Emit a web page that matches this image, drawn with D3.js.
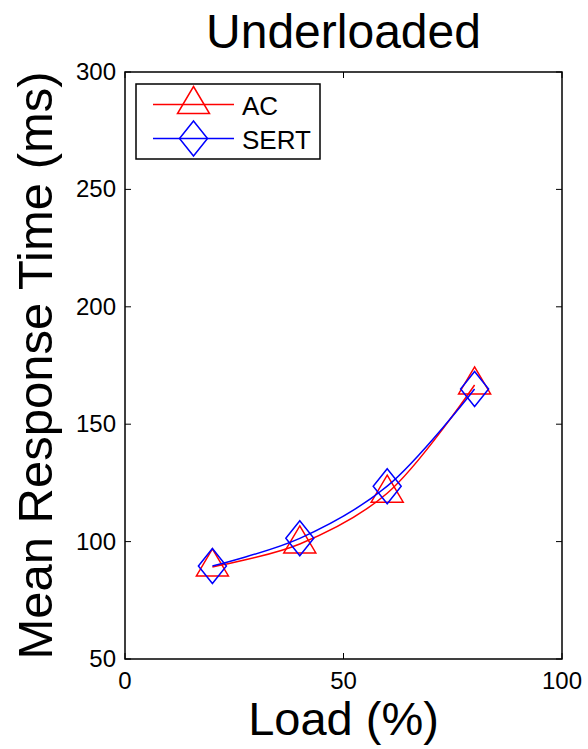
<!DOCTYPE html>
<html>
<head>
<meta charset="utf-8">
<script src="https://cdn.jsdelivr.net/npm/d3@7"></script>
<style>
  body { margin: 0; background: #fff; }
  text { font-family: "Liberation Sans", Arial, sans-serif; fill: #000; }
</style>
</head>
<body>
<div id="chart"></div>
<script>
var WIDTH = 588, HEIGHT = 749;
var MARGIN = {top: 72, right: 26, bottom: 90, left: 125};

// data
var loads = [20, 40, 60, 80];
var acValues = [89.2, 99.0, 120.6, 166.7];
var sertValues = [89.6, 101.4, 123.6, 165.0];
var xTicks = [0, 50, 100];
var yTicks = [50, 100, 150, 200, 250, 300];

var series = [
  {name: "AC", values: acValues, color: "#ff0000", marker: "triangle"},
  {name: "SERT", values: sertValues, color: "#0000ff", marker: "diamond"}
];

var svg = d3.select("#chart")
  .append("svg")
  .attr("width", WIDTH)
  .attr("height", HEIGHT);

var x = d3.scaleLinear().domain([0, 100]).range([MARGIN.left, WIDTH - MARGIN.right]);
var y = d3.scaleLinear().domain([50, 300]).range([HEIGHT - MARGIN.bottom, MARGIN.top]);

var plotW = x(100) - x(0), plotH = y(50) - y(300);

// marker paths, triangle drawn around its centroid like matlab '^'
function markerPath(type) {
  if (type == "triangle") {
    return "M0,-18 L16,9 L-16,9 Z";
  }
  return "M0,-17.5 L14,0 L0,17.5 L-14,0 Z";
}

// ticks inside the box, on all four sides
var tickLen = 6;
var ticks = svg.append("g").attr("stroke", "#000").attr("stroke-width", 1);
xTicks.forEach(function(t) {
  ticks.append("line").attr("x1", x(t)).attr("x2", x(t)).attr("y1", y(50)).attr("y2", y(50) - tickLen);
  ticks.append("line").attr("x1", x(t)).attr("x2", x(t)).attr("y1", y(300)).attr("y2", y(300) + tickLen);
});
yTicks.forEach(function(t) {
  ticks.append("line").attr("x1", x(0)).attr("x2", x(0) + tickLen).attr("y1", y(t)).attr("y2", y(t));
  ticks.append("line").attr("x1", x(100)).attr("x2", x(100) - tickLen).attr("y1", y(t)).attr("y2", y(t));
});

svg.selectAll(".xTickLabel")
  .data(xTicks)
  .enter()
  .append("text")
  .attr("class", "xTickLabel")
  .attr("x", function(d) { return x(d) })
  .attr("y", y(50) + 30)
  .attr("text-anchor", "middle")
  .style("font-size", "24px")
  .text(function(d) { return d });

svg.selectAll(".yTickLabel")
  .data(yTicks)
  .enter()
  .append("text")
  .attr("class", "yTickLabel")
  .attr("x", x(0) - 9)
  .attr("y", function(d) { return y(d) + 8 })
  .attr("text-anchor", "end")
  .style("font-size", "24px")
  .text(function(d) { return d });

// series lines (smoothed) and markers
var line = d3.line()
  .x(function(d, i) { return x(loads[i]) })
  .y(function(d) { return y(d) })
  .curve(d3.curveCatmullRom.alpha(0.5));

series.forEach(function(s) {
  svg.append("path")
    .attr("d", line(s.values))
    .attr("fill", "none")
    .attr("stroke", s.color)
    .attr("stroke-width", 1.5);
  svg.selectAll(".marker-" + s.name)
    .data(s.values)
    .enter()
    .append("path")
    .attr("class", "marker-" + s.name)
    .attr("transform", function(d, i) { return "translate(" + x(loads[i]) + "," + y(d) + ")" })
    .attr("d", markerPath(s.marker))
    .attr("fill", "none")
    .attr("stroke", s.color)
    .attr("stroke-width", 1.5);
});

// axes box
svg.append("rect")
  .attr("x", x(0)).attr("y", y(300))
  .attr("width", plotW).attr("height", plotH)
  .attr("fill", "none")
  .attr("stroke", "#000")
  .attr("stroke-width", 1.5);

// legend
var legend = svg.append("g").attr("transform", "translate(136,84)");
legend.append("rect")
  .attr("width", 184).attr("height", 75)
  .attr("fill", "#fff")
  .attr("stroke", "#000")
  .attr("stroke-width", 1.5);
series.forEach(function(s, i) {
  var rowY = 20.5 + i * 34;
  legend.append("line")
    .attr("x1", 17).attr("x2", 98)
    .attr("y1", rowY).attr("y2", rowY)
    .attr("stroke", s.color).attr("stroke-width", 1.5);
  legend.append("path")
    .attr("transform", "translate(57.5," + rowY + ")")
    .attr("d", markerPath(s.marker))
    .attr("fill", "none")
    .attr("stroke", s.color)
    .attr("stroke-width", 1.5);
  legend.append("text")
    .attr("x", 106).attr("y", rowY + 10)
    .style("font-size", "26px")
    .text(s.name);
});

// titles
svg.append("text")
  .attr("x", (x(0) + x(100)) / 2)
  .attr("y", 48)
  .attr("text-anchor", "middle")
  .style("font-size", "48px")
  .text("Underloaded");

svg.append("text")
  .attr("x", (x(0) + x(100)) / 2)
  .attr("y", 735)
  .attr("text-anchor", "middle")
  .style("font-size", "47px")
  .text("Load (%)");

svg.append("text")
  .attr("transform", "translate(52," + ((y(50) + y(300)) / 2) + ") rotate(-90)")
  .attr("text-anchor", "middle")
  .style("font-size", "49px")
  .text("Mean Response Time (ms)");
</script>
</body>
</html>
